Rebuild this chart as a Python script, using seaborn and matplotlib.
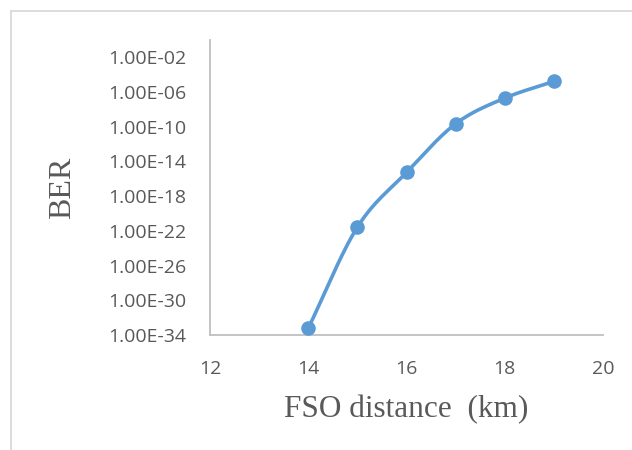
import numpy as np
import pandas as pd
import matplotlib
matplotlib.use("Agg")
import matplotlib.pyplot as plt
from matplotlib.patches import Rectangle
import seaborn as sns

# FSO link distance (km) and measured bit error rate
distance_km = [14, 15, 16, 17, 18, 19]
ber = [6.0e-34, 2.7e-22, 5.4e-16, 2.2e-10, 2.0e-07, 1.7e-05]

y_ticks = [1e-34, 1e-30, 1e-26, 1e-22, 1e-18, 1e-14, 1e-10, 1e-06, 1e-02]
x_ticks = [12, 14, 16, 18, 20]

LINE = "#5b9bd5"
TEXT = "#595959"
AXIS = "#bfbfbf"

sns.set_theme(style="white")
plt.rcParams["font.family"] = ["Open Sans", "DejaVu Sans"]

df = pd.DataFrame({"distance": distance_km, "ber": ber})


def smooth_path(x, y, n=30):
    """Catmull-Rom style smoothing of a polyline (in log space for y)."""
    x = np.asarray(x, float)
    ly = np.log10(np.asarray(y, float))
    px = np.concatenate([[2 * x[0] - x[1]], x, [2 * x[-1] - x[-2]]])
    py = np.concatenate([[2 * ly[0] - ly[1]], ly, [2 * ly[-1] - ly[-2]]])
    xs, ys = [], []
    t = np.linspace(0, 1, n)
    for i in range(1, len(px) - 2):
        p0, p1, p2, p3 = (np.array([px[j], py[j]]) for j in range(i - 1, i + 3))
        c1 = p1 + (p2 - p0) / 6.0
        c2 = p2 - (p3 - p1) / 6.0
        for tt in t:
            pt = ((1 - tt) ** 3) * p1 + 3 * ((1 - tt) ** 2) * tt * c1 \
                + 3 * (1 - tt) * tt ** 2 * c2 + tt ** 3 * p2
            xs.append(pt[0])
            ys.append(pt[1])
    return np.array(xs), 10 ** np.array(ys)


fig = plt.figure(figsize=(6.32, 4.5), dpi=100)
ax = fig.add_axes([210 / 632, 1 - 335 / 450, (603 - 210) / 632, (335 - 40) / 450])

sx, sy = smooth_path(df["distance"], df["ber"])
ax.plot(sx, sy, color=LINE, lw=2.6, solid_capstyle="round", zorder=2)
sns.scatterplot(data=df, x="distance", y="ber", ax=ax, color=LINE, s=110,
                edgecolor=LINE, linewidth=0, zorder=3, clip_on=False)

ax.set_yscale("log")
ax.set_ylim(1e-34, 1e0)
ax.set_xlim(12, 20)
ax.set_yticks(y_ticks)
ax.set_yticklabels([f"{v:.2E}" for v in y_ticks])
ax.minorticks_off()
ax.set_xticks(x_ticks)
ax.set_xticklabels([str(v) for v in x_ticks])
ax.set_xlabel("")
ax.set_ylabel("")
ax.tick_params(axis="both", length=0, labelsize=14, colors=TEXT)
ax.tick_params(axis="y", pad=17)
ax.tick_params(axis="x", pad=18)

for side in ("top", "right"):
    ax.spines[side].set_visible(False)
for side in ("left", "bottom"):
    ax.spines[side].set_color(AXIS)
    ax.spines[side].set_linewidth(1.3)

serif = ["Liberation Serif", "DejaVu Serif"]
fig.text(406 / 632, 1 - 410 / 450, "FSO distance  (km)", ha="center", va="center",
         fontsize=22.5, family=serif, color=TEXT)
fig.text(63 / 632, 1 - 188 / 450, "BER", ha="center", va="center", rotation=90,
         fontsize=23, family=serif, color=TEXT)

# chart area frame
fig.patches.append(Rectangle((11 / 632, -0.05), 1.2, 1 - 11 / 450 + 0.05,
                             transform=fig.transFigure, fill=False,
                             edgecolor="#d9d9d9", lw=1.3))

fig.savefig("out.png", dpi=100, facecolor="white")
